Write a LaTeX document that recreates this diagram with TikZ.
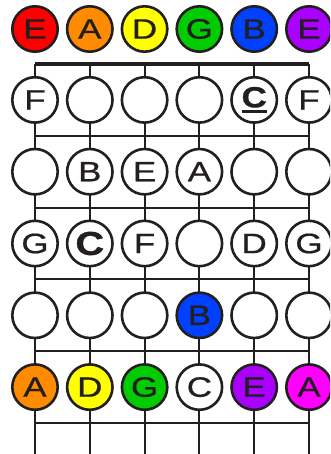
\documentclass[tikz,border=0pt]{standalone}
\usepackage{fontspec}
\setmainfont{Liberation Sans}
\newfontfamily\notefont[FakeStretch=1.25,FakeBold=0.7]{Liberation Sans}
\newfontfamily\rootfont[FakeStretch=1.2,FakeBold=1.2]{Liberation Sans Bold}
\usetikzlibrary{positioning}
\definecolor{ink}{HTML}{231F20}
\definecolor{noteE}{HTML}{FF0000}
\definecolor{noteA}{HTML}{FF8C00}
\definecolor{noteD}{HTML}{FFFF00}
\definecolor{noteG}{HTML}{00CC00}
\definecolor{noteB}{HTML}{0040FF}
\definecolor{noteEh}{HTML}{AA00FF}
\definecolor{noteAh}{HTML}{FF00FF}
\newcommand\thickul[1]{\setbox0\hbox{#1}\rlap{\raisebox{-5.5pt}{\rule{\wd0}{3pt}}}\box0}
\newcommand\rootC[1]{{\rootfont\fontsize{#1}{#1}\selectfont C}}
\tikzset{
  wire/.style={ink,line width=2pt},
  nutbar/.style={ink,line width=4.7pt},
  fretnote/.style={circle,draw=ink,line width=2.6pt,minimum size=45.4pt,inner sep=0pt,
    fill=white,text=ink,font=\notefont\fontsize{28}{28}\selectfont}
}

\begin{document}
\begin{tikzpicture}[x=1pt,y=-1pt]
  \clip (0,0) rectangle (330,454);
  % strings and frets
  \foreach \s in {1,...,6}{
    \coordinate (top\s) at ({35+54.8*(\s-1)},64);
    \coordinate (bot\s) at ({35+54.8*(\s-1)},454);
    \draw[wire] (top\s)--(bot\s);}
  \foreach \f in {1,...,5}{
    \coordinate (fl\f) at (35,{64+71.8*\f});
    \coordinate (fr\f) at ({35+54.8*5},{64+71.8*\f});
    \draw[wire] (fl\f)--(fr\f);}
  \draw[nutbar] (top1)--(top6);
  % open strings
  \foreach \n/\c [count=\s] in {E/noteE,A/noteA,D/noteD,G/noteG,B/noteB,E/noteEh}{
    \node[fretnote,fill=\c] (o\s) at ({35+54.8*(\s-1)},29) {\n};}
  % fretted notes, one row per fret
  \foreach \n/\c [count=\s] in {F/white,{}/white,{}/white,{}/white,{\thickul{\rootC{29}}}/white,F/white}{
    \node[fretnote,fill=\c] (n1-\s) at ({35+54.8*(\s-1)},{64+71.8*0.5}) {\n};}
  \foreach \n/\c [count=\s] in {{}/white,B/white,E/white,A/white,{}/white,{}/white}{
    \node[fretnote,fill=\c] (n2-\s) at ({35+54.8*(\s-1)},{64+71.8*1.5}) {\n};}
  \foreach \n/\c [count=\s] in {G/white,{\rootC{33}}/white,F/white,{}/white,D/white,G/white}{
    \node[fretnote,fill=\c] (n3-\s) at ({35+54.8*(\s-1)},{64+71.8*2.5}) {\n};}
  \foreach \n/\c [count=\s] in {{}/white,{}/white,{}/white,B/noteB,{}/white,{}/white}{
    \node[fretnote,fill=\c] (n4-\s) at ({35+54.8*(\s-1)},{64+71.8*3.5}) {\n};}
  \foreach \n/\c [count=\s] in {A/noteA,D/noteD,G/noteG,C/white,E/noteEh,A/noteAh}{
    \node[fretnote,fill=\c] (n5-\s) at ({35+54.8*(\s-1)},{64+71.8*4.5}) {\n};}
\end{tikzpicture}
\end{document}
